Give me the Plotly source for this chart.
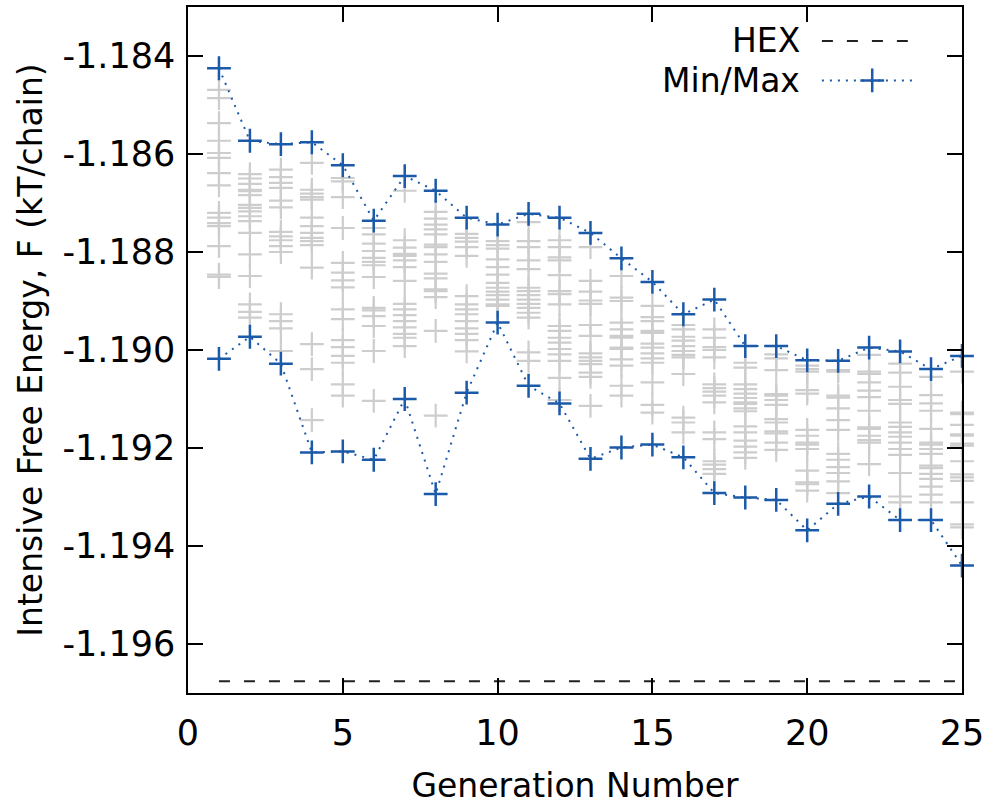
import plotly.graph_objects as go

# ---------------- data ----------------
generations = list(range(1, 26))

max_F = [-1.18425, -1.18573, -1.18580, -1.18576, -1.18623, -1.18736, -1.18645, -1.18675,
         -1.18730, -1.18744, -1.18722, -1.18730, -1.18761, -1.18813, -1.18861, -1.18927,
         -1.18897, -1.18992, -1.18992, -1.19021, -1.19022, -1.18995, -1.19003, -1.19039,
         -1.19012]
min_F = [-1.19018, -1.18973, -1.19028, -1.19209, -1.19207, -1.19224, -1.19100, -1.19294,
         -1.19087, -1.18944, -1.19073, -1.19109, -1.19222, -1.19199, -1.19193, -1.19219,
         -1.19292, -1.19301, -1.19306, -1.19368, -1.19314, -1.19299, -1.19347, -1.19347,
         -1.19440]
hex_F = -1.19676
hex_gen = [1, 25]

g01 = [-1.18469, -1.18486, -1.18537, -1.18573, -1.18598, -1.18608, -1.18639, -1.18664, -1.18720,
       -1.18730, -1.18741, -1.18747, -1.18788, -1.18846, -1.18851]
g02 = [-1.18641, -1.18650, -1.18661, -1.18673, -1.18676, -1.18684, -1.18704, -1.18710, -1.18717,
       -1.18727, -1.18737, -1.18761, -1.18805, -1.18849, -1.18907, -1.18922, -1.18934]
g03 = [-1.18632, -1.18647, -1.18659, -1.18669, -1.18695, -1.18709, -1.18759, -1.18768, -1.18776,
       -1.18788, -1.18800, -1.18927, -1.18941, -1.18956, -1.19002]
g04 = [-1.18618, -1.18673, -1.18681, -1.18688, -1.18693, -1.18730, -1.18747, -1.18761, -1.18771,
       -1.18778, -1.18786, -1.18832, -1.18988, -1.19039, -1.19143]
g05 = [-1.18649, -1.18656, -1.18688, -1.18751, -1.18822, -1.18842, -1.18858, -1.18872, -1.18917,
       -1.18937, -1.18980, -1.18994, -1.19012, -1.19026, -1.19070, -1.19093]
g06 = [-1.18751, -1.18764, -1.18783, -1.18798, -1.18812, -1.18820, -1.18827, -1.18851, -1.18914,
       -1.18919, -1.18931, -1.18951, -1.19002, -1.19104]
g07 = [-1.18675, -1.18776, -1.18791, -1.18804, -1.18808, -1.18817, -1.18831, -1.18859, -1.18906,
       -1.18917, -1.18929, -1.18941, -1.18954, -1.18967, -1.18975, -1.18992]
g08 = [-1.18718, -1.18732, -1.18744, -1.18754, -1.18764, -1.18785, -1.18790, -1.18805, -1.18820,
       -1.18844, -1.18854, -1.18876, -1.18880, -1.18892, -1.18961, -1.19134]
g09 = [-1.18763, -1.18771, -1.18779, -1.18790, -1.18808, -1.18890, -1.18907, -1.18917, -1.18927,
       -1.18941, -1.18956, -1.18967, -1.18980, -1.19003]
g10 = [-1.18778, -1.18786, -1.18793, -1.18815, -1.18831, -1.18846, -1.18863, -1.18873, -1.18881,
       -1.18888, -1.18897, -1.18907, -1.18910]
g11 = [-1.18739, -1.18778, -1.18790, -1.18817, -1.18835, -1.18873, -1.18880, -1.18888, -1.18897,
       -1.18906, -1.18914, -1.18924, -1.18934, -1.19005, -1.19022]
g12 = [-1.18776, -1.18790, -1.18811, -1.18817, -1.18847, -1.18880, -1.18886, -1.18907, -1.18951,
       -1.18961, -1.18975, -1.18985, -1.18998, -1.19009, -1.19022, -1.19057, -1.19102]
g13 = [-1.18790, -1.18859, -1.18881, -1.18899, -1.18906, -1.18949, -1.18971, -1.19007, -1.19015,
       -1.19022, -1.19029, -1.19046, -1.19055, -1.19114]
g14 = [-1.18849, -1.18893, -1.18900, -1.18944, -1.18958, -1.18971, -1.18975, -1.18995, -1.18998,
       -1.19019, -1.19032, -1.19073, -1.19093]
g15 = [-1.18910, -1.18933, -1.18941, -1.18961, -1.18965, -1.18987, -1.18995, -1.19007, -1.19017,
       -1.19026, -1.19066, -1.19112, -1.19128]
g16 = [-1.18949, -1.18958, -1.18973, -1.18981, -1.18992, -1.19002, -1.19010, -1.19015, -1.19049,
       -1.19138, -1.19148, -1.19168]
g17 = [-1.18958, -1.18975, -1.18994, -1.19000, -1.19015, -1.19070, -1.19078, -1.19085, -1.19093,
       -1.19107, -1.19168, -1.19182, -1.19227, -1.19234, -1.19243, -1.19253]
g18 = [-1.19026, -1.19036, -1.19070, -1.19080, -1.19089, -1.19098, -1.19107, -1.19110, -1.19119,
       -1.19125, -1.19156, -1.19168, -1.19185, -1.19197, -1.19209, -1.19220]
g19 = [-1.19009, -1.19017, -1.19041, -1.19090, -1.19093, -1.19102, -1.19112, -1.19141, -1.19148,
       -1.19166, -1.19170, -1.19189, -1.19204]
g20 = [-1.19032, -1.19039, -1.19044, -1.19082, -1.19089, -1.19163, -1.19175, -1.19189, -1.19193,
       -1.19202, -1.19246, -1.19270, -1.19274, -1.19287]
g21 = [-1.19041, -1.19044, -1.19093, -1.19097, -1.19119, -1.19143, -1.19163, -1.19212, -1.19224,
       -1.19239, -1.19251, -1.19268, -1.19292]
g22 = [-1.19010, -1.19044, -1.19049, -1.19066, -1.19083, -1.19096, -1.19124, -1.19158, -1.19161,
       -1.19175, -1.19184, -1.19189, -1.19233]
g23 = [-1.19028, -1.19046, -1.19075, -1.19102, -1.19110, -1.19148, -1.19157, -1.19168, -1.19177,
       -1.19189, -1.19202, -1.19214, -1.19251, -1.19299, -1.19311]
g24 = [-1.19055, -1.19092, -1.19109, -1.19124, -1.19161, -1.19189, -1.19193, -1.19202, -1.19212,
       -1.19236, -1.19241, -1.19253, -1.19263, -1.19279, -1.19295, -1.19311]
g25 = [-1.19044, -1.19128, -1.19131, -1.19153, -1.19172, -1.19175, -1.19191, -1.19195, -1.19227,
       -1.19254, -1.19260, -1.19267, -1.19311, -1.19356, -1.19362]

gray_by_gen = [g01, g02, g03, g04, g05, g06, g07, g08, g09, g10, g11, g12, g13,
               g14, g15, g16, g17, g18, g19, g20, g21, g22, g23, g24, g25]

x_ticks = [0, 5, 10, 15, 20, 25]
y_ticks = [-1.184, -1.186, -1.188, -1.190, -1.192, -1.194, -1.196]
y_tick_text = ["-1.184", "-1.186", "-1.188", "-1.190", "-1.192", "-1.194", "-1.196"]

# ---------------- styling ----------------
FONT = "DejaVu Sans"
FS = 33
TFS = 35
BLUE = "#1b5aa8"
GRAY = "#cdcdcd"

gx, gy = [], []
for gen, vals in zip(generations, gray_by_gen):
    gx += [gen] * len(vals)
    gy += vals

fig = go.Figure()

fig.add_trace(go.Scatter(
    x=gx, y=gy, mode="markers", showlegend=False, hoverinfo="skip", cliponaxis=False,
    marker=dict(symbol="cross-thin", size=17, line=dict(color=GRAY, width=2.2))))

fig.add_trace(go.Scatter(
    x=hex_gen, y=[hex_F, hex_F], mode="lines", showlegend=False,
    line=dict(color="#222222", width=2, dash="11px,14px")))

for series in (max_F, min_F):
    fig.add_trace(go.Scatter(
        x=generations, y=series, mode="lines+markers", showlegend=False, cliponaxis=False,
        line=dict(color=BLUE, width=2, dash="2px,6px"),
        marker=dict(symbol="cross-thin", size=17, line=dict(color=BLUE, width=2.5))))

# custom gnuplot-style legend (text on left, sample on right) on an overlay axis
fig.add_trace(go.Scatter(
    x=[0.819, 0.93], y=[0.9505, 0.9505], xaxis="x2", yaxis="y2", mode="lines",
    showlegend=False, hoverinfo="skip",
    line=dict(color="#222222", width=2, dash="11px,14px")))
fig.add_trace(go.Scatter(
    x=[0.819, 0.884, 0.943], y=[0.893, 0.893, 0.893], xaxis="x2", yaxis="y2",
    mode="lines", showlegend=False, hoverinfo="skip",
    line=dict(color=BLUE, width=2, dash="2px,6px")))
fig.add_trace(go.Scatter(
    x=[0.884], y=[0.893], xaxis="x2", yaxis="y2", mode="markers",
    showlegend=False, hoverinfo="skip",
    marker=dict(symbol="cross-thin", size=17, line=dict(color=BLUE, width=2.5))))

fig.add_annotation(text="HEX", xref="x2", yref="y2", x=0.793, y=0.9505,
                   xanchor="right", yanchor="middle", showarrow=False,
                   font=dict(family=FONT, size=FS, color="black"))
fig.add_annotation(text="Min/Max", xref="x2", yref="y2", x=0.793, y=0.893,
                   xanchor="right", yanchor="middle", showarrow=False,
                   font=dict(family=FONT, size=FS, color="black"))

axis_common = dict(showgrid=False, zeroline=False, showline=True, linecolor="black",
                   linewidth=1.5, mirror="ticks", ticks="inside", ticklen=15,
                   tickwidth=1.5, tickcolor="black",
                   tickfont=dict(family=FONT, size=TFS, color="black"))

fig.update_layout(
    width=990, height=808,
    margin=dict(l=188, r=28, t=5, b=115),
    paper_bgcolor="white", plot_bgcolor="white",
    showlegend=False,
    xaxis=dict(range=[0, 25], tickvals=x_ticks, ticklabelstandoff=8,
               title=dict(text="Generation Number", font=dict(family=FONT, size=FS, color="black"),
                          standoff=22),
               **axis_common),
    yaxis=dict(range=[-1.197, -1.183], tickvals=y_ticks, ticktext=y_tick_text,
               ticklabelstandoff=4,
               title=dict(text="Intensive Free Energy, F (kT/chain)",
                          font=dict(family=FONT, size=FS, color="black"), standoff=10),
               **axis_common),
    xaxis2=dict(range=[0, 1], overlaying="x", visible=False, fixedrange=True),
    yaxis2=dict(range=[0, 1], overlaying="y", visible=False, fixedrange=True),
)

fig.write_html("out.html")
